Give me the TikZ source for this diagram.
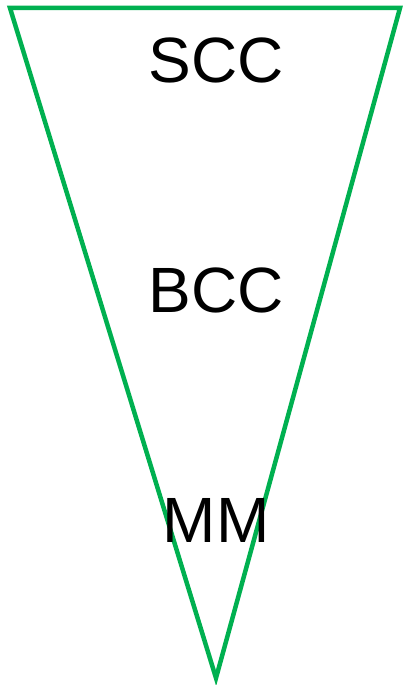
\documentclass[tikz,border=0pt]{standalone}
\usepackage{fontspec}
\setmainfont{Liberation Sans}
\definecolor{tri}{HTML}{00B050}
\begin{document}
\begin{tikzpicture}[x=1pt,y=1pt,
  lbl/.style={font=\fontsize{64}{64}\selectfont, inner sep=0pt, anchor=center}]
\useasboundingbox (0,0) rectangle (403,685);
\coordinate (tl) at (10,677);
\coordinate (tr) at (400,677);
\coordinate (ap) at (216,7);
\draw[tri, line width=4.5pt, line join=miter] (tl) -- (tr) -- (ap) -- cycle;
\node[lbl] (scc) at (216,625) {SCC};
\node[lbl] (bcc) at (216,395) {BCC};
\node[lbl] (mm) at (216,165) {MM};
\end{tikzpicture}
\end{document}
